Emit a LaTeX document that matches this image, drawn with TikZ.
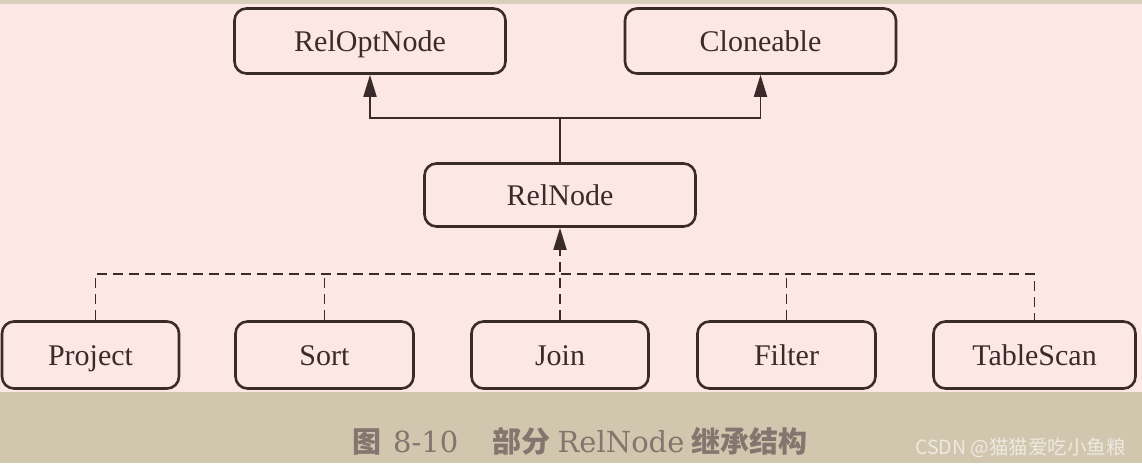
\documentclass[tikz,border=0pt]{standalone}
\usepackage{fontspec}
\setmainfont{Liberation Serif}
\newfontfamily\cjk{Noto Sans CJK SC}
\newfontfamily\capserif{DejaVu Serif}
\usetikzlibrary{arrows.meta}
\definecolor{bgpink}{HTML}{FCE7E5}
\definecolor{band}{HTML}{D1C6AE}
\definecolor{topline}{HTML}{D8D0BC}
\definecolor{ink}{HTML}{3A2A2A}
\definecolor{capcol}{HTML}{86746E}
\definecolor{wmcol}{HTML}{EEEAE2}
\tikzset{
  classbox/.style={draw=ink, line width=2.6pt, rounded corners=12pt, fill=bgpink,
    inner sep=0pt, text=ink, font=\fontsize{30}{34}\selectfont,
    text height=20pt, text depth=0pt},
  conn/.style={draw=ink, line width=1.8pt},
  dashconn/.style={conn, dash pattern=on 10pt off 6pt},
  tip/.style={-{Triangle[length=22pt,width=13pt]}}
}
\begin{document}
\begin{tikzpicture}[x=1pt,y=-1pt]
\useasboundingbox (0,0) rectangle (1142,466);
% backgrounds
\fill[bgpink] (0,0) rectangle (1142,392);
\fill[band] (0,392) rectangle (1142,463);
\fill[white] (0,463) rectangle (1142,466);
\fill[topline] (0,0) rectangle (1142,4);
% nodes
\node[classbox, minimum width=271pt, minimum height=65pt] (ro) at (370,41) {RelOptNode};
\node[classbox, minimum width=271pt, minimum height=65pt] (cl) at (760.5,41) {Cloneable};
\node[classbox, minimum width=271pt, minimum height=63pt] (rn) at (560,195) {RelNode};
\node[classbox, minimum width=177pt, minimum height=67pt] (pr) at (90.5,355) {Project};
\node[classbox, minimum width=178pt, minimum height=67pt] (so) at (324.5,355) {Sort};
\node[classbox, minimum width=177pt, minimum height=67pt] (jo) at (560,355) {Join};
\node[classbox, minimum width=178pt, minimum height=67pt] (fi) at (786.5,355) {Filter};
\node[classbox, minimum width=202pt, minimum height=67pt] (ts) at (1034.5,355) {TableScan};
% solid inheritance
\coordinate (hub) at (560,118);
\draw[conn, tip] (rn.north) -- (hub) -| (ro.south);
\draw[conn, tip] (hub) -| (cl.south);
% dashed implementation
\coordinate (dh) at (0,274);
\coordinate (pt) at ([xshift=5pt]pr.north);
\draw[dashconn] (pt) -- (pt |- dh) -- (ts.north |- dh) -- (ts.north);
\draw[dashconn] (so.north) -- (so.north |- dh);
\draw[dashconn] (fi.north) -- (fi.north |- dh);
\draw[dashconn, tip] (jo.north) -- (rn.south);
% caption
\node[anchor=base west, text=capcol, inner sep=0pt, font=\fontsize{29}{32}\selectfont] (cap) at (352,452)
  {{\cjk\bfseries 图}\hspace{12pt}{\capserif 8-10}\hspace{34pt}{\cjk\bfseries 部分} {\capserif RelNode} {\cjk\bfseries 继承结构}};
\node[anchor=base west, text=wmcol, inner sep=0pt, font=\cjk\fontsize{19.5}{22}\selectfont] (wm) at (915,454) {CSDN @猫猫爱吃小鱼粮};
\end{tikzpicture}
\end{document}
